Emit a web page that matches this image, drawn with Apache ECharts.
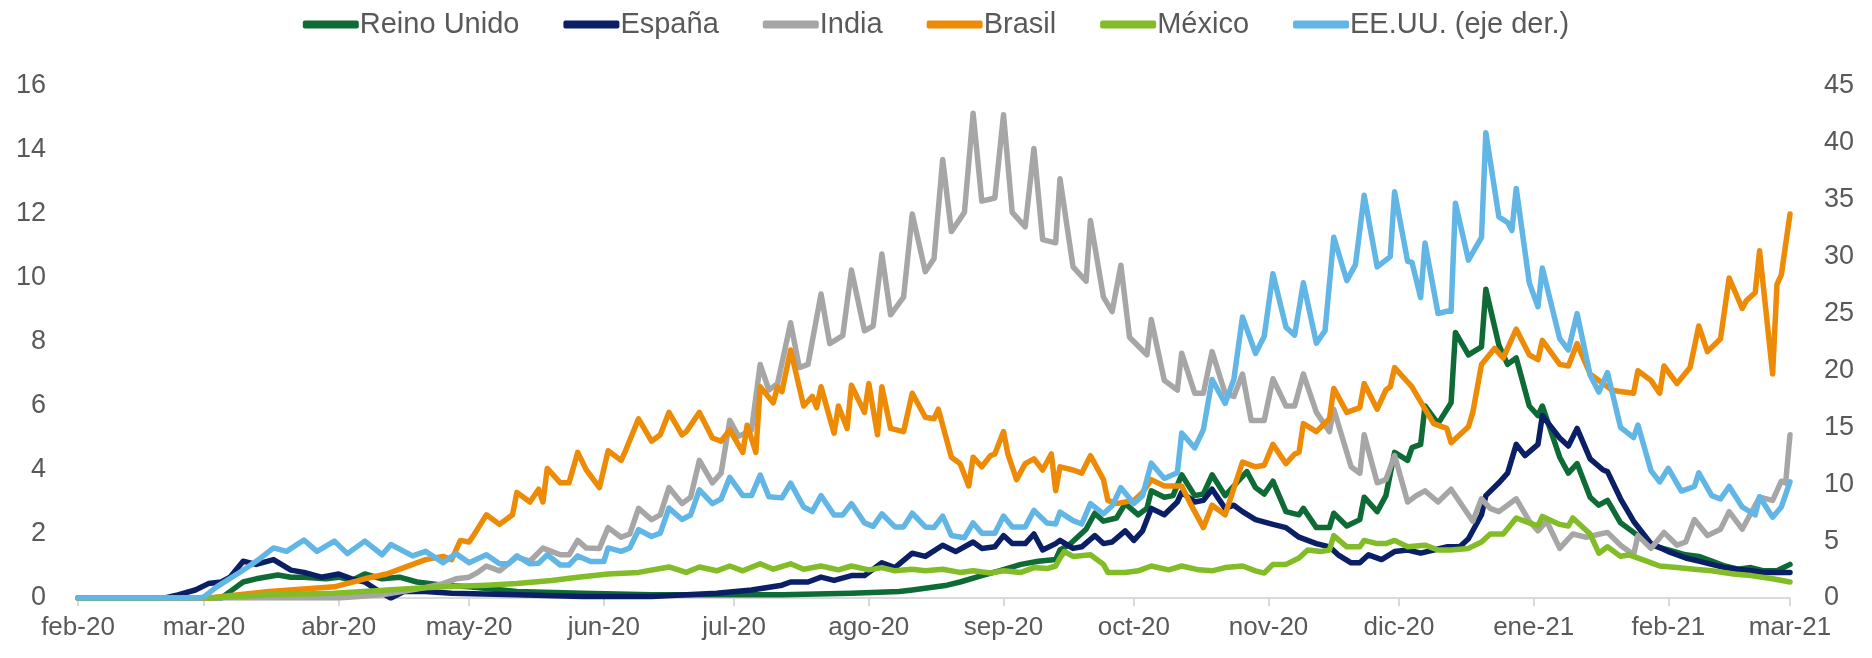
<!DOCTYPE html>
<html>
<head>
<meta charset="utf-8">
<script src="https://cdn.jsdelivr.net/npm/echarts@6/dist/echarts.min.js"></script>
<style>
html,body{margin:0;padding:0;background:#fff;}
#c{width:1872px;height:658px;}
</style>
</head>
<body>
<div id="c"></div>
<script>
// x values are days counted from 1 Feb 2020
const monthDays = [0, 29, 60, 90, 121, 151, 182, 213, 243, 274, 304, 335, 366, 394];
const monthLabels = ['feb-20','mar-20','abr-20','may-20','jun-20','jul-20','ago-20','sep-20','oct-20','nov-20','dic-20','ene-21','feb-21','mar-21'];
const seriesNames = ['Reino Unido','España','India','Brasil','México','EE.UU. (eje der.)'];

const reinoUnido = [[0,0],[33,0],[36,0.3],[38,0.5],[41,0.6],[46,0.72],[49,0.65],[52,0.65],[57,0.6],[60,0.65],[63,0.55],[66,0.75],[70,0.6],[74,0.65],[78,0.5],[84,0.4],[90,0.35],[101,0.2],[116,0.15],[132,0.1],[147,0.1],[162,0.1],[178,0.15],[189,0.2],[192,0.25],[200,0.4],[203,0.5],[208,0.7],[212,0.85],[217,1.05],[221,1.15],[225,1.2],[226,1.5],[228,1.65],[232,2.15],[234,2.65],[236,2.4],[239,2.5],[241,2.95],[244,2.6],[246,2.8],[247,3.35],[250,3.15],[252,3.2],[254,3.85],[257,3.2],[259,3.25],[261,3.85],[264,3.2],[266,3.5],[269,3.95],[271,3.45],[273,3.25],[275,3.65],[278,2.7],[281,2.6],[282,2.8],[285,2.2],[288,2.2],[289,2.65],[292,2.25],[295,2.45],[296,3.15],[299,2.7],[301,3.2],[303,4.55],[306,4.3],[307,4.7],[309,4.8],[310,6.0],[313,5.45],[316,6.1],[317,8.3],[320,7.6],[323,7.85],[324,9.65],[327,7.9],[329,7.3],[331,7.5],[334,6.0],[336,5.7],[337,6.0],[341,4.4],[343,3.9],[345,4.2],[348,3.15],[350,2.9],[352,3.05],[355,2.35],[358,2.05],[362,1.65],[366,1.5],[370,1.35],[373,1.3],[376,1.15],[379,1.0],[382,0.9],[385,0.95],[388,0.85],[391,0.85],[394,1.05]];

const espana = [[0,0],[20,0],[23,0.1],[27,0.25],[30,0.45],[33,0.5],[35,0.65],[38,1.15],[41,1.05],[45,1.2],[49,0.87],[52,0.8],[56,0.65],[60,0.75],[63,0.6],[66,0.5],[70,0.15],[72,0.0],[75,0.2],[80,0.2],[86,0.15],[101,0.1],[116,0.05],[132,0.05],[147,0.15],[155,0.25],[162,0.4],[164,0.5],[168,0.5],[171,0.65],[174,0.55],[178,0.7],[181,0.7],[185,1.1],[188,0.95],[192,1.4],[195,1.3],[199,1.65],[202,1.45],[206,1.75],[208,1.55],[211,1.6],[213,1.95],[215,1.7],[218,1.7],[220,2.0],[222,1.5],[225,1.7],[226,1.8],[229,1.55],[231,1.6],[234,1.95],[236,1.7],[238,1.75],[241,2.1],[243,1.8],[245,2.1],[247,2.8],[250,2.6],[253,3.0],[254,3.3],[257,3.0],[259,3.05],[261,3.4],[264,2.8],[266,2.9],[268,2.7],[271,2.45],[275,2.3],[278,2.2],[281,1.9],[285,1.7],[288,1.6],[290,1.35],[293,1.1],[295,1.1],[297,1.35],[300,1.2],[303,1.45],[306,1.5],[309,1.4],[312,1.5],[315,1.6],[318,1.6],[320,1.85],[323,2.6],[324,3.2],[327,3.6],[329,3.9],[331,4.8],[333,4.45],[336,4.8],[337,5.7],[341,5.0],[343,4.75],[345,5.3],[348,4.35],[351,4.0],[352,3.95],[355,3.1],[358,2.4],[362,1.7],[366,1.45],[370,1.25],[373,1.15],[376,1.05],[379,0.95],[382,0.9],[385,0.85],[388,0.8],[391,0.8],[394,0.8]];

const india = [[0,0],[60,0],[70,0.1],[79,0.3],[84,0.45],[87,0.6],[90,0.65],[92,0.8],[94,1.0],[97,0.85],[101,1.28],[104,1.15],[107,1.56],[111,1.35],[113,1.35],[115,1.8],[117,1.56],[120,1.55],[122,2.2],[125,1.9],[127,2.0],[129,2.8],[132,2.45],[134,2.6],[136,3.45],[139,2.95],[141,3.15],[143,4.3],[146,3.6],[148,3.9],[150,5.55],[152,5.05],[155,5.25],[157,7.3],[159,6.5],[161,6.7],[164,8.6],[166,7.2],[168,7.3],[171,9.5],[173,7.95],[176,8.2],[178,10.25],[181,8.35],[183,8.5],[185,10.75],[187,8.85],[190,9.4],[192,12.0],[195,10.2],[197,10.6],[199,13.7],[201,11.45],[204,12.05],[206,15.15],[208,12.4],[211,12.5],[213,15.1],[215,12.05],[218,11.6],[220,14.05],[222,11.2],[225,11.1],[226,13.1],[229,10.35],[232,9.9],[233,11.8],[236,9.4],[238,8.95],[240,10.4],[242,8.15],[246,7.6],[247,8.7],[250,6.8],[253,6.5],[254,7.65],[257,6.4],[259,6.4],[261,7.7],[264,6.4],[266,6.3],[268,7.0],[270,5.55],[273,5.55],[275,6.85],[278,6.0],[280,6.0],[282,7.0],[285,5.8],[288,5.2],[289,5.9],[293,4.1],[295,3.9],[296,5.1],[299,3.6],[301,3.7],[303,4.45],[306,3.0],[308,3.2],[310,3.35],[313,3.0],[316,3.4],[321,2.4],[323,3.1],[325,2.8],[327,2.7],[331,3.1],[334,2.4],[336,2.1],[338,2.4],[341,1.55],[344,2.0],[347,1.9],[352,2.05],[355,1.65],[358,1.35],[359,1.95],[362,1.55],[365,2.05],[368,1.65],[370,1.75],[372,2.45],[375,1.95],[378,2.15],[380,2.7],[383,2.15],[387,3.15],[390,3.05],[392,3.65],[393,3.6],[394,5.1]];

const brasil = [[0,0],[30,0],[44,0.2],[59,0.35],[66,0.6],[71,0.75],[75,0.95],[80,1.2],[84,1.3],[86,1.2],[88,1.8],[90,1.75],[91,1.95],[94,2.6],[97,2.3],[100,2.6],[101,3.3],[104,3.0],[106,3.4],[107,3.0],[108,4.05],[111,3.6],[113,3.6],[115,4.55],[117,4.0],[120,3.45],[122,4.6],[125,4.3],[126,4.6],[129,5.6],[132,4.9],[134,5.1],[136,5.8],[139,5.1],[140,5.2],[143,5.8],[146,5.0],[148,4.9],[150,5.25],[153,4.55],[154,5.4],[156,4.55],[157,6.6],[160,6.1],[161,6.6],[162,6.45],[164,7.75],[167,6.0],[169,6.3],[170,5.95],[171,6.6],[174,5.15],[175,6.0],[177,5.3],[178,6.65],[181,5.8],[182,6.7],[184,5.1],[185,6.6],[187,5.3],[190,5.2],[192,6.4],[195,5.65],[197,5.6],[198,5.9],[201,4.4],[203,4.2],[205,3.5],[206,4.4],[208,4.1],[210,4.45],[211,4.5],[213,5.2],[214,4.5],[216,3.7],[218,4.2],[220,4.35],[222,4.0],[224,4.5],[225,3.35],[226,4.1],[229,4.0],[231,3.9],[233,4.45],[236,3.7],[237,3.05],[239,2.95],[243,3.05],[245,3.3],[247,3.7],[250,3.5],[254,3.5],[256,2.95],[259,2.2],[261,2.9],[264,2.6],[268,4.25],[271,4.1],[273,4.15],[275,4.8],[278,4.2],[280,4.5],[281,4.55],[282,5.45],[285,5.2],[288,5.6],[289,6.55],[292,5.8],[295,5.95],[296,6.7],[299,5.9],[301,6.5],[302,6.6],[303,7.2],[306,6.75],[307,6.6],[310,5.9],[312,5.45],[315,5.3],[316,4.85],[320,5.35],[321,5.8],[323,7.3],[326,7.8],[328,7.5],[331,8.4],[334,7.6],[336,7.45],[337,8.05],[341,7.3],[343,7.25],[345,7.95],[348,7.0],[351,6.7],[353,6.5],[355,6.45],[358,6.4],[359,7.1],[362,6.8],[364,6.4],[365,7.25],[368,6.7],[371,7.2],[373,8.5],[375,7.7],[378,8.1],[380,10.0],[383,9.05],[384,9.3],[386,9.55],[387,10.85],[390,7.0],[391,9.8],[392,10.1],[394,12.0]];

const mexico = [[0,0],[30,0],[44,0.1],[59,0.15],[75,0.28],[84,0.35],[94,0.4],[101,0.45],[109,0.55],[115,0.65],[122,0.75],[129,0.8],[136,0.97],[140,0.8],[143,0.97],[147,0.85],[150,1.0],[153,0.85],[157,1.07],[160,0.9],[164,1.07],[167,0.9],[171,1.0],[175,0.88],[178,1.0],[182,0.88],[185,0.95],[188,0.85],[192,0.9],[195,0.85],[199,0.9],[203,0.8],[206,0.85],[210,0.78],[213,0.85],[217,0.8],[220,0.95],[223,0.92],[225,1.0],[226,1.25],[227,1.45],[229,1.3],[233,1.35],[236,1.05],[237,0.8],[241,0.8],[244,0.85],[247,1.0],[251,0.88],[254,1.0],[258,0.88],[261,0.85],[264,0.95],[268,1.0],[271,0.85],[273,0.78],[275,1.05],[278,1.05],[281,1.25],[283,1.5],[286,1.45],[288,1.5],[289,1.95],[292,1.6],[295,1.6],[296,1.8],[299,1.7],[301,1.7],[303,1.8],[306,1.6],[310,1.65],[313,1.5],[316,1.5],[320,1.55],[323,1.75],[325,2.0],[328,2.0],[331,2.5],[334,2.35],[336,2.25],[337,2.55],[341,2.3],[343,2.25],[344,2.5],[348,2.0],[350,1.4],[352,1.6],[355,1.3],[357,1.35],[361,1.15],[364,1.0],[368,0.95],[372,0.9],[376,0.85],[381,0.75],[385,0.7],[390,0.6],[394,0.5]];

const eeuu = [[0,0],[28,0],[29,0.1],[32,1.0],[37,2.2],[39,2.7],[42,3.5],[45,4.4],[48,4.1],[52,5.1],[55,4.1],[59,5.0],[62,3.9],[66,5.0],[70,3.8],[72,4.7],[77,3.7],[80,4.1],[84,3.1],[87,3.9],[90,3.1],[94,3.8],[97,3.0],[99,3.0],[101,3.7],[104,3.0],[106,3.05],[108,3.8],[111,2.9],[113,2.9],[115,3.7],[118,3.2],[121,3.2],[122,4.4],[125,4.1],[127,4.4],[129,6.0],[132,5.4],[134,5.7],[136,7.9],[139,6.9],[141,7.3],[143,9.5],[146,8.3],[148,8.7],[150,10.6],[153,9.0],[155,9.0],[157,10.8],[159,8.9],[162,8.8],[164,10.1],[167,8.0],[169,7.6],[171,9.0],[174,7.3],[176,7.3],[178,8.3],[181,6.6],[183,6.3],[185,7.4],[188,6.25],[190,6.25],[192,7.45],[195,6.25],[197,6.2],[199,7.2],[201,5.5],[204,5.3],[206,6.6],[208,5.7],[211,5.7],[213,7.2],[215,6.25],[218,6.25],[220,7.7],[223,6.6],[225,6.5],[226,7.55],[229,6.8],[231,6.5],[233,8.3],[236,7.4],[238,8.1],[240,9.7],[243,8.3],[245,9.0],[247,11.85],[250,10.5],[253,11.0],[254,14.5],[257,13.2],[259,14.8],[261,19.2],[264,17.1],[266,19.2],[268,24.7],[271,21.5],[273,23.0],[275,28.5],[278,23.8],[280,23.1],[282,27.7],[285,22.4],[287,23.5],[289,31.7],[292,27.9],[294,29.3],[296,35.4],[299,29.1],[302,30.0],[303,35.7],[306,29.6],[307,29.5],[309,26.4],[310,31.2],[313,25.0],[315,25.2],[316,25.2],[317,34.7],[320,29.7],[323,31.7],[324,40.9],[327,33.5],[329,33.0],[330,32.3],[331,36.0],[334,27.7],[336,25.6],[337,29.0],[341,22.8],[343,21.8],[345,25.0],[348,19.6],[350,18.1],[352,19.8],[355,15.0],[358,14.1],[359,15.2],[362,11.2],[364,10.2],[366,11.4],[369,9.4],[372,9.8],[373,11.0],[376,9.0],[378,8.7],[380,9.8],[383,8.0],[386,7.3],[387,8.9],[390,7.1],[392,8.0],[394,10.2]];

const colors = ['#0E6B35','#0B1F66','#A6A6A6','#EE8B06','#82BC27','#62B6E6'];
const seriesData = [reinoUnido, espana, india, brasil, mexico, eeuu];

const chart = echarts.init(document.getElementById('c'), null, {renderer:'canvas'});
const FONT = "'Liberation Sans Narrow', 'Liberation Sans', Arial, sans-serif";
const txt = '#595959';

const option = {
  animation: false,
  color: colors,
  textStyle: {fontFamily: FONT},
  legend: {
    top: 5,
    left: 'center',
    icon: 'roundRect',
    itemWidth: 56,
    itemHeight: 8,
    itemGap: 44,
    textStyle: {color: txt, fontSize: 29, fontFamily: FONT, padding: [0,0,0,-4]},
    data: seriesNames
  },
  grid: {left: 78, right: 82, top: 86, bottom: 60, containLabel: false},
  xAxis: {
    type: 'value',
    min: 0, max: 394,
    splitLine: {show: false},
    axisLine: {show: true, lineStyle: {color: '#D9D9D9', width: 2}},
    axisTick: {show: true, customValues: monthDays, length: 8, lineStyle: {color: '#D9D9D9', width: 2}},
    axisLabel: {
      customValues: monthDays,
      color: txt, fontSize: 26, fontFamily: FONT, margin: 17,
      formatter: function (v) { const i = monthDays.indexOf(v); return i >= 0 ? monthLabels[i] : ''; }
    }
  },
  yAxis: [
    {type: 'value', min: 0, max: 16, interval: 2, position: 'left',
     splitLine: {show: false}, axisLine: {show: false}, axisTick: {show: false},
     axisLabel: {color: txt, fontSize: 27, fontFamily: FONT, margin: 32}},
    {type: 'value', min: 0, max: 45, interval: 5, position: 'right',
     splitLine: {show: false}, axisLine: {show: false}, axisTick: {show: false},
     axisLabel: {color: txt, fontSize: 27, fontFamily: FONT, margin: 34}}
  ],
  series: seriesNames.map(function (name, i) {
    return {
      name: name, type: 'line', data: seriesData[i],
      yAxisIndex: i === 5 ? 1 : 0,
      showSymbol: false, symbol: 'none',
      lineStyle: {width: 5.5, color: colors[i], join: 'round', cap: 'round'},
      itemStyle: {color: colors[i]},
      z: 2 + i
    };
  })
};
chart.setOption(option);
</script>
</body>
</html>
